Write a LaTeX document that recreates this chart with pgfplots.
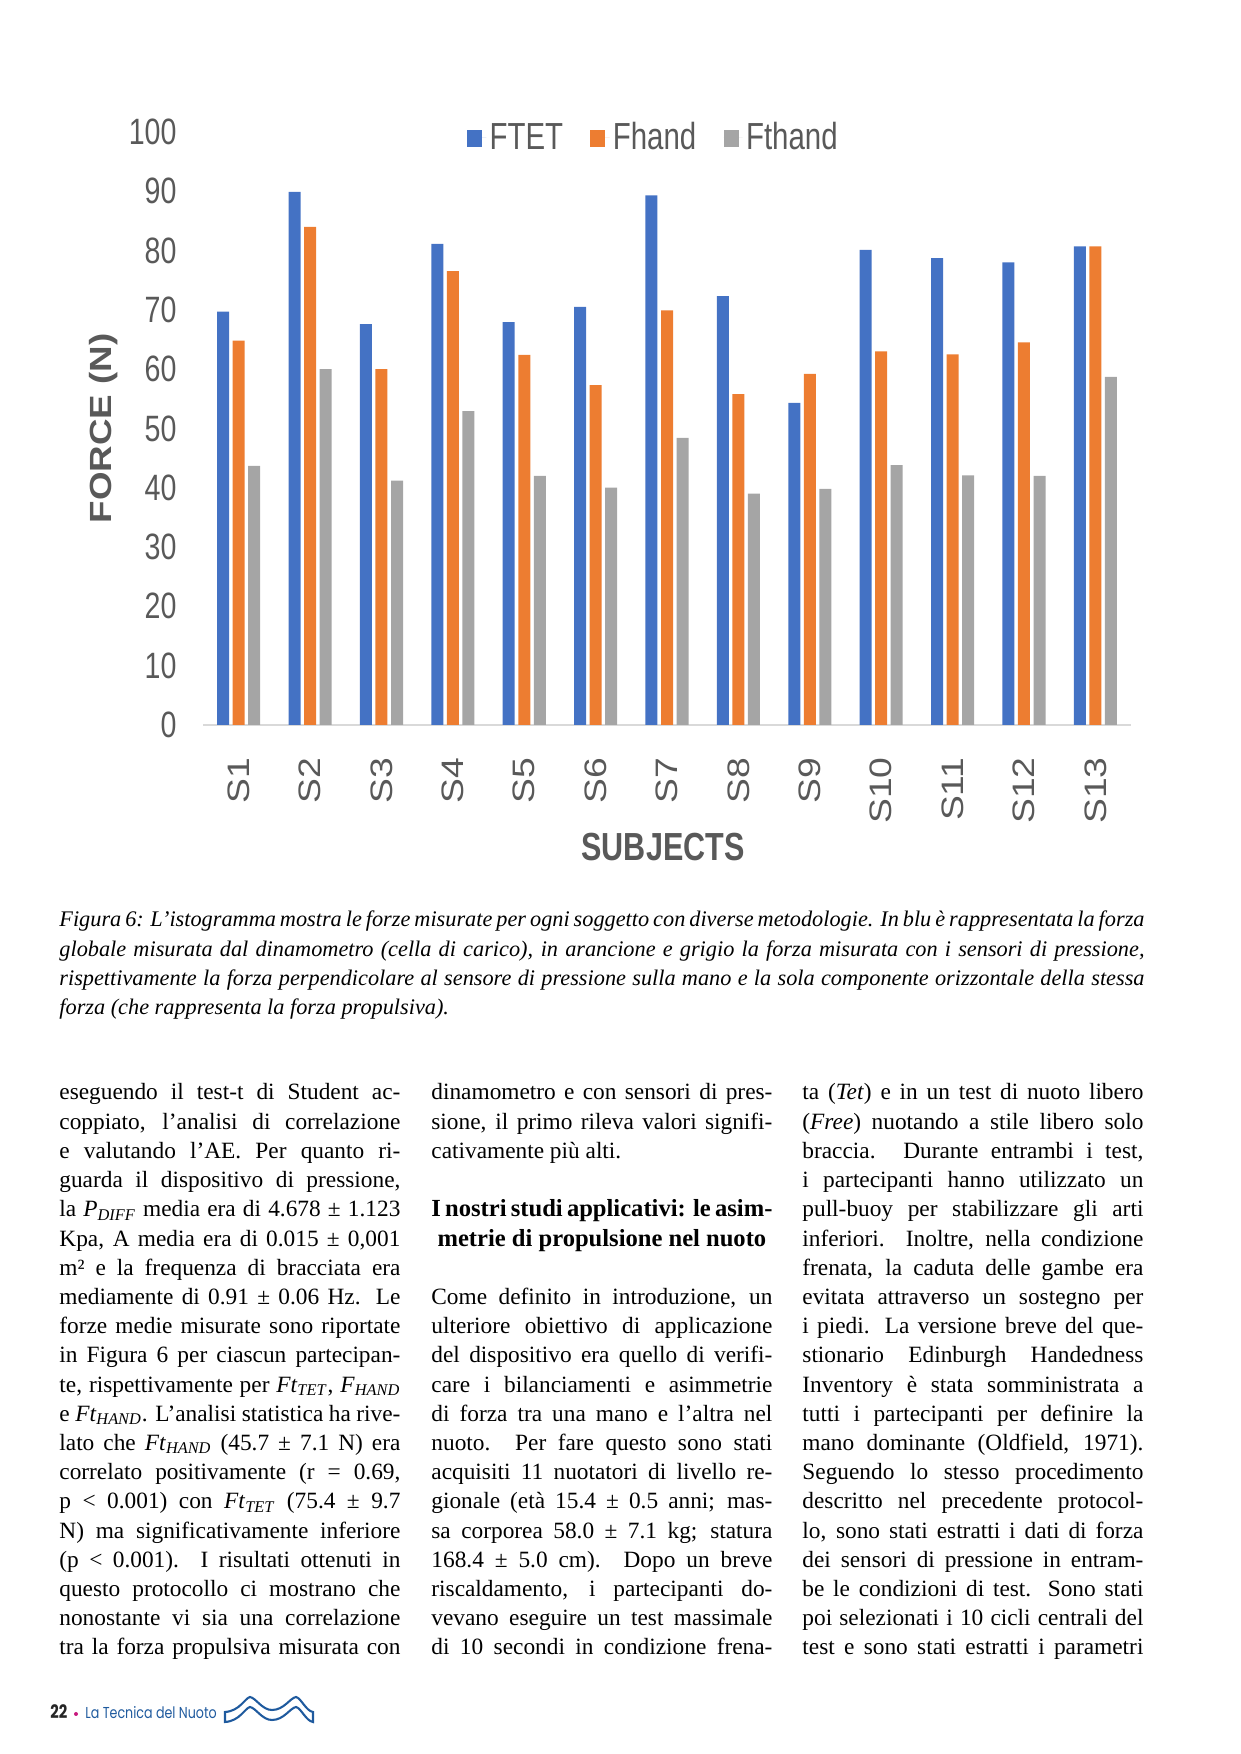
\documentclass[border=0pt]{standalone}
\usepackage{pgfplots}
\pgfplotsset{compat=1.18}
\usepackage{fontspec}
\setmainfont{Liberation Serif}
\newfontfamily\chartfont{Liberation Sans}[FakeStretch=0.78]
\newfontfamily\chartrot{Liberation Sans}[FakeStretch=1.2]
\newfontfamily\footfont{Poppins}[FakeStretch=0.8]

\definecolor{cblue}{HTML}{4472C4}
\definecolor{corange}{HTML}{ED7D31}
\definecolor{cgray}{HTML}{A5A5A5}
\definecolor{labgray}{HTML}{595959}
\definecolor{axgray}{HTML}{D9D9D9}
\definecolor{footblue}{HTML}{1F5A9E}
\definecolor{footpink}{HTML}{C8197E}

\pgfplotsset{sq legend/.style={legend image code/.code={%
  \path (0bp,0bp) -- (9.2bp,0bp);
  \fill[##1,draw=none] (0bp,-4.6bp) rectangle (7.2bp,3.6bp);}}}

\newlength\colw
\newcommand\J[1]{\makebox[\colw][s]{#1}\par}
\newcommand\E[1]{\makebox[\colw][l]{#1}\par}
\newcommand\C[1]{\makebox[\colw][c]{#1}\par}
\newcommand\sub[1]{\textsubscript{\textit{#1}}}
\newcommand\bodyfont{\fontsize{11.2bp}{14.02bp}\selectfont}

% forces per subject (N)
\pgfplotstableread{
x  ftet  fhand fthand
1  69.7  64.8  43.7
2  89.9  84.0  60.0
3  67.6  60.0  41.2
4  81.1  76.5  52.9
5  67.9  62.4  42.0
6  70.5  57.3  40.0
7  89.3  69.9  48.4
8  72.3  55.8  39.0
9  54.3  59.2  39.8
10 80.1  63.0  43.8
11 78.7  62.5  42.1
12 78.0  64.5  42.0
13 80.7  80.7  58.7
}\forcedata

\begin{document}
\begin{tikzpicture}[x=0.48006bp,y=0.48006bp]
\useasboundingbox (0,0) rectangle (1240,1754);

\begin{axis}[
  at={(97.45bp,493.98bp)}, anchor=south west,
  scale only axis, width=445.5bp, height=284.7bp,
  xmin=0.5, xmax=13.5, ymin=0, ymax=100,
  ybar=1.7bp, bar width=5.76bp,
  axis lines*=left,
  x axis line style={draw=axgray, line width=1bp},
  y axis line style={draw=none},
  major tick length=0pt,
  xtick={1,...,13},
  xticklabels={S1,S2,S3,S4,S5,S6,S7,S8,S9,S10,S11,S12,S13},
  ytick={0,10,...,100},
  /pgf/number format/assume math mode=true,
  tick label style={text=labgray, inner sep=0pt},
  yticklabel style={font=\chartfont\fontsize{17.6bp}{20bp}\selectfont, anchor=east},
  yticklabel shift=12.5bp,
  xticklabel style={font=\chartrot\fontsize{14.9bp}{16bp}\selectfont, rotate=90, anchor=east},
  xticklabel shift=15.4bp,
  ylabel={FORCE (N)},
  ylabel style={font=\chartrot\fontsize{14.7bp}{16bp}\selectfont\bfseries, text=labgray,
    at={(axis description cs:-0.1067,0.5)}, anchor=center, inner sep=0pt},
  xlabel={SUBJECTS},
  xlabel style={font=\chartfont\fontsize{18.8bp}{21bp}\selectfont\bfseries, text=labgray,
    at={(axis description cs:0.4957,-0.2066)}, anchor=center, inner sep=0pt},
  legend columns=3,
  legend style={at={(0.486,0.99)}, anchor=center, draw=none, fill=none,
    font=\chartfont\fontsize{18.1bp}{20bp}\selectfont, text=labgray,
    nodes={inner xsep=1.6bp, inner ysep=0pt},
    /tikz/every even column/.append style={column sep=11.5bp}},
  clip=false,
]
\addplot[fill=cblue, draw=none, sq legend] table[x=x, y=ftet] {\forcedata};
\addplot[fill=corange, draw=none, sq legend] table[x=x, y=fhand] {\forcedata};
\addplot[fill=cgray, draw=none, sq legend] table[x=x, y=fthand] {\forcedata};
\legend{FTET, Fhand, Fthand}
\end{axis}

% caption
\node[anchor=base west, inner sep=0pt] at (59,827) {\setlength\colw{520.9bp}%
\parbox[t]{\colw}{\fontsize{10.7bp}{14.02bp}\selectfont\itshape
\J{Figura 6: L’istogramma mostra le forze misurate per ogni soggetto con diverse metodologie. In blu è rappresentata la forza}
\J{globale misurata dal dinamometro (cella di carico), in arancione e grigio la forza misurata con i sensori di pressione,}
\J{rispettivamente la forza perpendicolare al sensore di pressione sulla mano e la sola componente orizzontale della stessa}
\E{forza (che rappresenta la forza propulsiva).}}};

% column 1
\node[anchor=base west, inner sep=0pt] at (59,654) {\setlength\colw{163.7bp}%
\parbox[t]{\colw}{\bodyfont
\J{eseguendo il test-t di Student ac-}
\J{coppiato, l’analisi di correlazione}
\J{e valutando l’AE. Per quanto ri-}
\J{guarda il dispositivo di pressione,}
\J{la \textit{P}\sub{DIFF} media era di 4.678 ± 1.123}
\J{Kpa, A media era di 0.015 ± 0,001}
\J{m² e la frequenza di bracciata era}
\J{mediamente di 0.91 ± 0.06 Hz. Le}
\J{forze medie misurate sono riportate}
\J{in Figura 6 per ciascun partecipan-}
\J{te, rispettivamente per \textit{Ft}\sub{TET}, \textit{F}\sub{HAND}}
\J{e \textit{Ft}\sub{HAND}. L’analisi statistica ha rive-}
\J{lato che \textit{Ft}\sub{HAND} (45.7 ± 7.1 N) era}
\J{correlato positivamente (r = 0.69,}
\J{p < 0.001) con \textit{Ft}\sub{TET} (75.4 ± 9.7}
\J{N) ma significativamente inferiore}
\J{(p < 0.001). I risultati ottenuti in}
\J{questo protocollo ci mostrano che}
\J{nonostante vi sia una correlazione}
\J{tra la forza propulsiva misurata con}}};

% column 2
\node[anchor=base west, inner sep=0pt] at (431,654) {\setlength\colw{163.7bp}%
\parbox[t]{\colw}{\bodyfont
\J{dinamometro e con sensori di pres-}
\J{sione, il primo rileva valori signifi-}
\E{cativamente più alti.}
\mbox{}\par
\J{\fontsize{11.8bp}{14.02bp}\selectfont\bfseries I nostri studi applicativi: le asim-}
\C{\fontsize{11.8bp}{14.02bp}\selectfont\bfseries metrie di propulsione nel nuoto}
\mbox{}\par
\J{Come definito in introduzione, un}
\J{ulteriore obiettivo di applicazione}
\J{del dispositivo era quello di verifi-}
\J{care i bilanciamenti e asimmetrie}
\J{di forza tra una mano e l’altra nel}
\J{nuoto. Per fare questo sono stati}
\J{acquisiti 11 nuotatori di livello re-}
\J{gionale (età 15.4 ± 0.5 anni; mas-}
\J{sa corporea 58.0 ± 7.1 kg; statura}
\J{168.4 ± 5.0 cm). Dopo un breve}
\J{riscaldamento, i partecipanti do-}
\J{vevano eseguire un test massimale}
\J{di 10 secondi in condizione frena-}}};

% column 3
\node[anchor=base west, inner sep=0pt] at (802,654) {\setlength\colw{163.7bp}%
\parbox[t]{\colw}{\bodyfont
\J{ta (\textit{Tet}) e in un test di nuoto libero}
\J{(\textit{Free}) nuotando a stile libero solo}
\J{braccia. Durante entrambi i test,}
\J{i partecipanti hanno utilizzato un}
\J{pull-buoy per stabilizzare gli arti}
\J{inferiori. Inoltre, nella condizione}
\J{frenata, la caduta delle gambe era}
\J{evitata attraverso un sostegno per}
\J{i piedi. La versione breve del que-}
\J{stionario Edinburgh Handedness}
\J{Inventory è stata somministrata a}
\J{tutti i partecipanti per definire la}
\J{mano dominante (Oldfield, 1971).}
\J{Seguendo lo stesso procedimento}
\J{descritto nel precedente protocol-}
\J{lo, sono stati estratti i dati di forza}
\J{dei sensori di pressione in entram-}
\J{be le condizioni di test. Sono stati}
\J{poi selezionati i 10 cicli centrali del}
\J{test e sono stati estratti i parametri}}};

% footer
\node[anchor=base west, inner sep=0pt, text=black!85] at (50,35)
  {\footfont\fontsize{8.9bp}{10bp}\selectfont\bfseries 22};
\fill[footpink] (76,40) circle (2);
\node[anchor=base west, inner sep=0pt, text=footblue] at (85,35)
  {\footfont\fontsize{7.6bp}{9bp}\selectfont La Tecnica del Nuoto};
\draw[footblue, line width=1bp]
  (225,42) .. controls (240,43) and (245,56) .. (250,57)
  .. controls (256,56) and (262,44) .. (272,44)
  .. controls (284,44) and (290,56) .. (296,57)
  .. controls (301,56) and (306,43) .. (313,42) -- (313,32)
  .. controls (306,33) and (301,46) .. (296,47)
  .. controls (290,46) and (284,34) .. (272,34)
  .. controls (262,34) and (256,46) .. (250,47)
  .. controls (245,46) and (240,33) .. (225,32) -- cycle;
\end{tikzpicture}
\end{document}
